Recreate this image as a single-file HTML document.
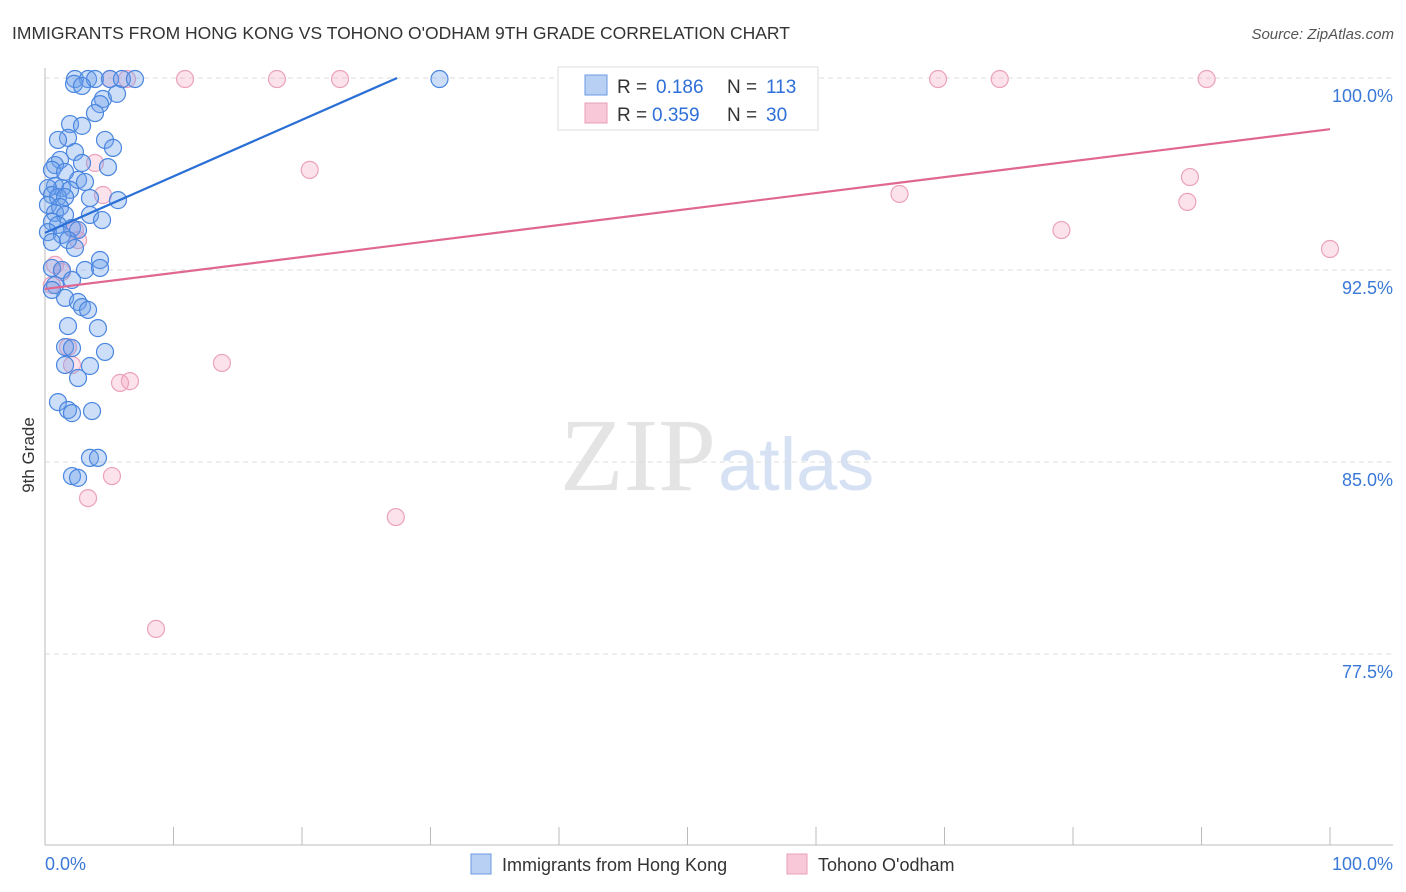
<!DOCTYPE html>
<html><head><meta charset="utf-8"><style>
body{margin:0;background:#fff;font-family:"Liberation Sans",sans-serif}
svg{display:block}
</style></head><body>
<svg id="c" width="1406" height="892">
<text x="12" y="39" font-size="17.5" fill="#333">IMMIGRANTS FROM HONG KONG VS TOHONO O'ODHAM 9TH GRADE CORRELATION CHART</text>
<text x="1394" y="39" font-size="15" fill="#555" font-style="italic" text-anchor="end">Source: ZipAtlas.com</text>
<text x="716" y="490" font-size="104" fill="#e4e4e4" text-anchor="end" font-family="Liberation Serif">ZIP</text>
<text x="718" y="490" font-size="74" fill="#d6e2f4">atlas</text>
<text transform="translate(34,455) rotate(-90)" font-size="17" fill="#333" text-anchor="middle">9th Grade</text>
<g id="grid"></g><g id="marks"></g><g id="trends"></g>
<g>
<rect x="558" y="67" width="260" height="63" fill="#fff" stroke="#ddd"/>
<rect x="585" y="75" width="22" height="20" fill="#b8d0f4" stroke="#6a9ae0"/>
<rect x="585" y="103" width="22" height="20" fill="#f8c8d8" stroke="#e8a0b8"/>
<text x="617" y="93" font-size="19" fill="#333">R =</text>
<text x="656" y="93" font-size="19" fill="#2e6fd8">0.186</text>
<text x="727" y="93" font-size="19" fill="#333">N =</text>
<text x="766" y="93" font-size="19" fill="#2e6fd8">113</text>
<text x="617" y="121" font-size="19" fill="#333">R =</text>
<text x="652" y="121" font-size="19" fill="#2e6fd8">0.359</text>
<text x="727" y="121" font-size="19" fill="#333">N =</text>
<text x="766" y="121" font-size="19" fill="#2e6fd8">30</text>
</g>
<g>
<rect x="471" y="854" width="20" height="20" fill="#b8d0f4" stroke="#6a9ae0"/>
<text x="502" y="871" font-size="18" fill="#333">Immigrants from Hong Kong</text>
<rect x="787" y="854" width="20" height="20" fill="#f8c8d8" stroke="#e8a0b8"/>
<text x="818" y="871" font-size="18" fill="#333">Tohono O'odham</text>
</g>
</svg>
<script>
const yTicks=[100,92.5,85,77.5];
const yTickLabels=["100.0%","92.5%","85.0%","77.5%"];
const xEndLabels=["0.0%","100.0%"];
const blueX=[2.33,3.35,3.89,5.06,5.99,7.0,30.7,2.26,2.88,4.51,5.6,4.28,3.89,1.95,2.88,1.79,1.01,4.67,5.29,2.33,1.17,0.78,2.88,4.9,0.54,1.56,2.57,3.11,0.78,1.32,1.95,0.23,0.54,1.01,1.56,3.5,5.68,0.23,1.17,0.78,1.56,3.5,4.44,0.54,1.01,2.1,2.57,0.23,1.32,1.79,0.54,2.33,4.28,0.54,1.32,3.11,4.28,2.1,0.78,0.54,1.56,2.57,2.88,3.35,1.79,4.12,1.56,2.1,4.67,1.56,3.5,2.57,1.01,1.79,2.1,3.66,3.5,4.12,2.1,2.57];
const blueY=[99.96,99.96,99.96,99.96,99.96,99.96,99.96,99.77,99.69,99.18,99.38,98.98,98.63,98.2,98.13,97.66,97.58,97.58,97.27,97.11,96.8,96.6,96.68,96.52,96.41,96.33,96.02,95.94,95.78,95.7,95.63,95.7,95.43,95.35,95.35,95.31,95.23,95.04,94.96,94.73,94.65,94.65,94.45,94.38,94.26,94.14,94.06,93.98,93.87,93.67,93.59,93.36,92.89,92.58,92.5,92.5,92.58,92.11,91.91,91.72,91.41,91.25,91.05,90.94,90.31,90.23,89.49,89.45,89.3,88.79,88.75,88.28,87.34,87.03,86.91,86.99,85.16,85.16,84.45,84.38];
const pinkX=[5.06,6.38,10.9,18.05,22.96,47.6,69.5,74.3,90.4,20.6,3.89,4.51,2.33,2.57,89.1,88.9,66.5,79.1,100,0.78,1.32,0.54,1.79,2.1,13.77,5.84,6.61,5.21,3.35,27.3,8.64];
const pinkY=[99.96,99.96,99.96,99.96,99.96,99.96,99.96,99.96,99.96,96.41,96.68,95.43,94.06,93.67,96.13,95.16,95.47,94.06,93.32,92.7,92.42,91.91,89.49,88.79,88.87,88.09,88.16,84.45,83.59,82.85,78.48];
const blueTrend=[93.95,100.0]; const blueTrendX=[0,27.4];
const pinkTrend=[91.76,98.0]; const pinkTrendX=[0,100];
const X=v=>45+v*12.85, Y=v=>78+(100-v)*25.6;
const NS="http://www.w3.org/2000/svg";
function mk(p,t,a){const e=document.createElementNS(NS,t);for(const k in a)e.setAttribute(k,a[k]);p.appendChild(e);return e;}
const grid=document.getElementById('grid');
yTicks.forEach((t,i)=>{
 const l=mk(grid,'line',{x1:45,x2:1393,y1:Y(t),y2:Y(t),stroke:'#ddd','stroke-dasharray':'5,4'});
 
 
 const tx=mk(grid,'text',{x:1393,y:Y(t)+24,'font-size':18,fill:'#3a78d8','text-anchor':'end'});
 tx.textContent=yTickLabels[i];
 
 
});
const ax=mk(grid,'line',{x1:45,x2:45,y1:68,y2:845,stroke:'#bbb'});


const bx=mk(grid,'line',{x1:45,x2:1393,y1:845,y2:845,stroke:'#bbb'});


for(let v=10;v<=100;v+=10){
 const t=mk(grid,'line',{x1:X(v),x2:X(v),y1:827,y2:845,stroke:'#bbb'});
 
 
}
[[0,'start'],[100,'end']].forEach((p,i)=>{
 const t=mk(grid,'text',{x:i?1393:45,y:870,'font-size':18,fill:'#3a78d8','text-anchor':p[1]});
 t.textContent=xEndLabels[i];
 
 
});
const marks=document.getElementById('marks');
pinkX.forEach((x,i)=>{
 const c=mk(marks,'circle',{cx:X(x),cy:Y(pinkY[i]),r:8.5,fill:'rgba(244,160,190,0.3)',stroke:'#eba2bc','stroke-width':1.2});
 
 
});
blueX.forEach((x,i)=>{
 const c=mk(marks,'circle',{cx:X(x),cy:Y(blueY[i]),r:8.5,fill:'rgba(110,160,235,0.35)',stroke:'#4a86e0','stroke-width':1.2});
 
 
});
const tr=document.getElementById('trends');
const bl=mk(tr,'line',{x1:X(blueTrendX[0]),y1:Y(blueTrend[0]),x2:X(blueTrendX[1]),y2:Y(blueTrend[1]),stroke:'#2a6fd6','stroke-width':2.2});


const pl=mk(tr,'line',{x1:X(pinkTrendX[0]),y1:Y(pinkTrend[0]),x2:X(pinkTrendX[1]),y2:Y(pinkTrend[1]),stroke:'#e06890','stroke-width':2.2});


</script>
</body></html>
